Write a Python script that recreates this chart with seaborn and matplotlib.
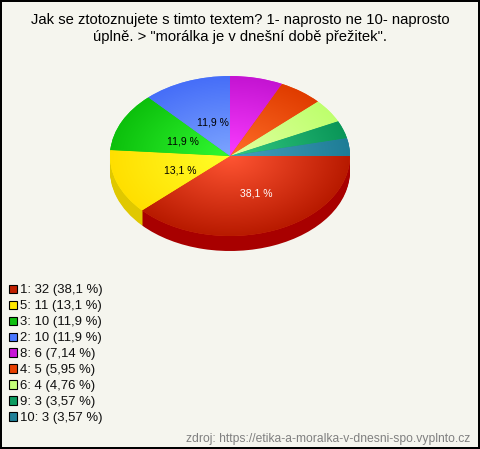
import numpy as np
import matplotlib
matplotlib.use("Agg")
import matplotlib.pyplot as plt
from matplotlib.patches import Patch
import seaborn as sns

# answers and counts as printed in the legend
answers = ["1", "5", "3", "2", "8", "4", "6", "9", "10"]
counts = [32, 11, 10, 10, 6, 5, 4, 3, 3]
percents = ["38,1", "13,1", "11,9", "11,9", "7,14", "5,95", "4,76", "3,57", "3,57"]

# slice colours, centre of the pie -> rim
inner_colors = ["#ff5533", "#ffff28", "#32fa32", "#7da5ff", "#fa3cff", "#ff6e28", "#e1ffa0", "#32c882", "#46a0be"]
rim_colors = ["#b81a00", "#ffdf00", "#0cc00c", "#466ef8", "#c414d2", "#e03c00", "#beff6e", "#0a9658", "#1e7d96"]
side_colors = ["#a80000", "#e0c800", "#0a9a0a", "#3458c0", "#9a10a0", "#b03000", "#98cc58", "#087844", "#186478"]
legend_colors = ["#c02000", "#ffe800", "#10c010", "#4a78ff", "#c814d8", "#e84000", "#c4ff78", "#0c9c60", "#208098"]

title = 'Jak se ztotoznujete s timto textem? 1- naprosto ne 10- naprosto\núplně. > "morálka je v dnešní době přežitek".'
source = "zdroj: https://etika-a-moralka-v-dnesni-spo.vyplnto.cz"

sns.set_theme(style="white")
plt.rcParams["font.family"] = ["Liberation Sans", "DejaVu Sans"]

W, H = 480, 449
BG = "#f5f5ee"
fig = plt.figure(figsize=(W / 100, H / 100), dpi=100, facecolor=BG, edgecolor="black", linewidth=1.6)

# pie axes, stretched so that the circle turns into an ellipse
cx, cy, rx, ry, depth = 230, 156, 120, 80, 15
ax = fig.add_axes([(cx - rx) / W, 1 - (cy + ry) / H, 2 * rx / W, 2 * ry / H])

# side wall, just the same pie stacked downwards
for d in range(depth, 0, -1):
    ax.pie(counts, colors=side_colors, startangle=0, counterclock=False, center=(0, -d / ry), radius=1,
           wedgeprops={"edgecolor": "none", "linewidth": 0})

def pct_label(p):
    return "" if p < 10 else ("%.1f %%" % p).replace(".", ",")

wedges, texts, autotexts = ax.pie(counts, colors=inner_colors, startangle=0, counterclock=False,
                                  autopct=pct_label, pctdistance=0.47,
                                  wedgeprops={"edgecolor": "none", "linewidth": 0},
                                  textprops={"fontsize": 7.5, "color": "black", "zorder": 20})

# radial gradient on top of each slice
yy, xx = np.mgrid[-1:1:400j, -1:1:400j]
rr = np.sqrt(xx ** 2 + yy ** 2)
for w, c1, c2 in zip(wedges, inner_colors, rim_colors):
    cmap = sns.blend_palette([c1, c2], as_cmap=True)
    w.set_facecolor(sns.blend_palette([c1, c2], 3)[1])
    im = ax.imshow(rr, cmap=cmap, vmin=0, vmax=1, extent=(-1, 1, -1, 1), aspect="auto", zorder=5, origin="lower")
    im.set_clip_path(w)

# nudge the percent labels to where the original has them
for t in autotexts[1:4]:
    x0, y0 = t.get_position()
    t.set_position((x0 + 0.03, y0 - 0.025))
autotexts[0].set_color("white")
x0, y0 = autotexts[0].get_position()
autotexts[0].set_position((x0 + 0.05, y0 - 0.03))

ax.set_aspect("auto")
ax.set_xlim(-1, 1)
ax.set_ylim(-1, 1)
ax.axis("off")

fig.text(240 / W, 1 - 28.5 / H, title, ha="center", va="center", fontsize=10.6, color="black", linespacing=1.28)
fig.text(470 / W, 1 - 439 / H, source, ha="right", va="center", fontsize=8.7, color="#808080")

handles = [Patch(facecolor=c, edgecolor="black", linewidth=0.8) for c in legend_colors]
labels = ["%s: %d (%s %%)" % (a, n, p) for a, n, p in zip(answers, counts, percents)]
fig.legend(handles, labels, loc="upper left", bbox_to_anchor=(9 / W, 1 - 284.5 / H), frameon=False,
           fontsize=9.45, labelspacing=0.3, handlelength=0.6, handleheight=0.6, handletextpad=0.22,
           borderpad=0, borderaxespad=0, labelcolor="#111111")

fig.savefig("out.png", dpi=100, facecolor=BG, edgecolor="black")
